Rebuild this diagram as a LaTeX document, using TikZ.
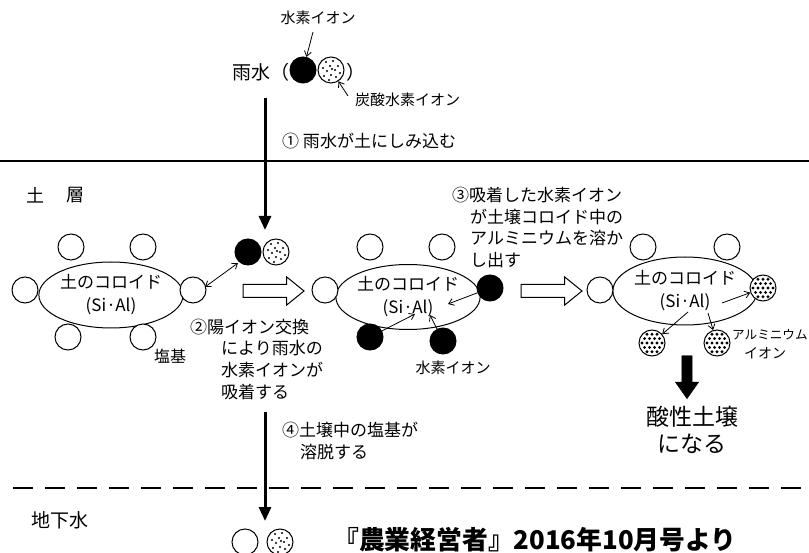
\documentclass[tikz,border=0pt]{standalone}
\usepackage{fontspec}
\setmainfont{Noto Sans CJK JP}
\usetikzlibrary{arrows.meta,shapes.arrows,shapes.geometric}
\newcommand{\fsz}[1]{\fontsize{#1}{#1}\selectfont}
\begin{document}
\begin{tikzpicture}[x=1pt,y=-1pt,
  ball/.style={circle,draw,line width=1pt,minimum size=26pt,inner sep=0pt},
  wball/.style={ball,fill=white},
  hball/.style={ball,fill=black},
  sball/.style={ball,fill=white,path picture={
     \foreach \dx/\dy in {-5/-8,2/-9,7/-4,-1/-4,-8/-2,4/0,-4/1,9/3,0/5,-7/6,5/7,-2/10,1/-1}
       \fill[black] ([shift={(\dx,\dy)}]path picture bounding box.center) circle (1.1pt);}},
  aball/.style={ball,fill=white,path picture={
     \foreach \dx/\dy in {-10/0,-5/0,0/0,5/0,10/0,
                          -7.5/-4.4,-2.5/-4.4,2.5/-4.4,7.5/-4.4,
                          -7.5/4.4,-2.5/4.4,2.5/4.4,7.5/4.4,
                          -5/-8.7,0/-8.7,5/-8.7,-5/8.7,0/8.7,5/8.7}
       \fill[black] ([shift={(\dx,\dy)}]path picture bounding box.center) circle (1.6pt);}},
  colloid/.style={ellipse,draw,line width=1pt,minimum width=142pt,minimum height=66pt,inner sep=0pt,
     align=center,font=\fontsize{17}{23}\selectfont},
  thinarr/.style={line width=0.8pt,-{Straight Barb[length=5pt,width=7pt]}},
  bigdown/.style={line width=3pt,-{Triangle[length=14pt,width=12pt]}},
  hollow/.style={single arrow,draw,line width=1pt,fill=white,minimum height=61pt,minimum width=27pt,
     inner sep=6pt,single arrow head extend=7.5pt,single arrow tip angle=78,single arrow head indent=0pt},
  txt/.style={inner sep=0pt},
]
\useasboundingbox (0,0) rectangle (809,553);

% ---- top: rainwater
\node[txt,font=\fsz{15}] (lblH) at (318,18) {水素イオン};
\node[txt,font=\fsz{19},anchor=west] (rain) at (232,72) {雨水（};
\node[hball] (rH) at (303,70) {};
\node[sball] (rC) at (331,70) {};
\node[txt,font=\fsz{19},anchor=west] (rclose) at (346,72) {）};
\node[txt,font=\fsz{15},anchor=west] (lblC) at (355,100) {炭酸水素イオン};
\coordinate (aH1) at (313,32);
\coordinate (aC1) at (348,96);
\draw[thinarr] (aH1) -- (rH);
\draw[thinarr] (aC1) -- (rC);

\coordinate (v1s) at (265,98);
\coordinate (v1e) at (265,230);
\draw[bigdown] (v1s) -- (v1e);
\node[txt,font=\fsz{17},anchor=west] (step1) at (282,141) {① 雨水が土にしみ込む};

% ---- soil boundary
\coordinate (g1) at (0,161);
\coordinate (g2) at (809,161);
\draw[line width=2pt] (g1) -- (g2);
\node[txt,font=\fsz{18}] (do) at (36,195) {土};
\node[txt,font=\fsz{18}] (so) at (75,195) {層};

% ---- left colloid
\node[colloid] (c1) at (111,295) {土のコロイド\\(Si·Al)};
\node[wball] (c1a) at (71,247) {};
\node[wball] (c1b) at (143,247) {};
\node[wball] (c1c) at (25,290) {};
\node[wball] (c1d) at (193,290) {};
\node[wball] (c1e) at (68,337) {};
\node[wball] (c1f) at (143,337) {};
\node[txt,font=\fsz{16}] (enki) at (170,356) {塩基};
\node[hball] (pH) at (248,252) {};
\node[sball] (pC) at (276,252) {};
\coordinate (dA) at (205,287);
\coordinate (dB) at (238,263);
\draw[line width=0.8pt,{Straight Barb[length=5pt,width=7pt]}-{Straight Barb[length=5pt,width=7pt]}] (dA) -- (dB);

\node[hollow] (h1) at (269.5,291) {};

\node[txt,font=\fsz{17},anchor=west] (s2a) at (190,327) {②陽イオン交換};
\node[txt,font=\fsz{17},anchor=west] (s2b) at (221,348) {により雨水の};
\node[txt,font=\fsz{17},anchor=west] (s2c) at (221,370) {水素イオンが};
\node[txt,font=\fsz{17},anchor=west] (s2d) at (221,392) {吸着する};

% ---- middle colloid
\node[colloid,minimum width=140pt,minimum height=65pt] (c2) at (408,297) {土のコロイド\\(Si·Al)};
\node[wball] (c2a) at (370,247) {};
\node[wball] (c2b) at (442,247) {};
\node[wball] (c2c) at (325,290) {};
\node[hball] (c2d) at (490,288) {};
\node[hball] (c2e) at (370,337) {};
\node[hball] (c2f) at (443,341) {};
\coordinate (m1) at (448,304);
\coordinate (m2) at (415,314);
\coordinate (m3) at (430,315);
\draw[thinarr] (c2d) -- (m1);
\draw[thinarr] (c2e) -- (m2);
\draw[thinarr] (c2f) -- (m3);
\node[txt,font=\fsz{15}] (lblH2) at (453,368) {水素イオン};

\node[txt,font=\fsz{17},anchor=west] (s3a) at (452,195) {③吸着した水素イオン};
\node[txt,font=\fsz{17},anchor=west] (s3b) at (470,217) {が土壌コロイド中の};
\node[txt,font=\fsz{17},anchor=west] (s3c) at (470,238) {アルミニウムを溶か};
\node[txt,font=\fsz{17},anchor=west] (s3d) at (470,260) {し出す};

\node[hollow] (h2) at (547.5,291) {};

% ---- right colloid
\node[colloid,minimum width=140pt,minimum height=68pt] (c3) at (685,291) {土のコロイド\\(Si·Al)};
\node[wball] (c3a) at (643,247) {};
\node[wball] (c3b) at (727,247) {};
\node[wball] (c3c) at (600,290) {};
\node[aball] (c3d) at (763,288) {};
\node[aball] (c3e) at (652,343) {};
\node[aball] (c3f) at (717,343) {};
\coordinate (r1) at (722,303);
\coordinate (r2) at (688,312);
\coordinate (r3) at (708,313);
\draw[thinarr] (r1) -- (c3d);
\draw[thinarr] (r2) -- (c3e);
\draw[thinarr] (r3) -- (c3f);
\node[txt,font=\fsz{12.6},anchor=west] (lblAl) at (732,335) {アルミニウム};
\node[txt,font=\fsz{14}] (lblAl2) at (765,353) {イオン};

\node[single arrow,fill=black,draw=black,rotate=-90,minimum height=43pt,minimum width=23pt,
      inner sep=5pt,single arrow head extend=6.5pt,single arrow tip angle=70,single arrow head indent=0pt] (bd) at (687,373.5) {};
\node[txt,font=\fsz{23}] (acid1) at (692,417) {酸性土壌};
\node[txt,font=\fsz{23}] (acid2) at (692,444) {になる};

% ---- leaching
\coordinate (v2s) at (265,412);
\coordinate (v2e) at (265,521);
\draw[bigdown] (v2s) -- (v2e);
\node[txt,font=\fsz{17},anchor=west] (s4a) at (282,430) {④土壌中の塩基が};
\node[txt,font=\fsz{17},anchor=west] (s4b) at (300,452) {溶脱する};

\coordinate (w1) at (13,488);
\coordinate (w2) at (809,488);
\draw[line width=2.5pt,dash pattern=on 20pt off 12pt] (w1) -- (w2);
\node[txt,font=\fsz{19}] (gw) at (60,520) {地下水};
\node[wball] (gb1) at (245,542) {};
\node[sball] (gb2) at (280,542) {};

\node[txt,font=\bfseries\fsz{25.8},anchor=west] (cite) at (333,540) {『農業経営者』2016年10月号より};
\end{tikzpicture}
\end{document}
